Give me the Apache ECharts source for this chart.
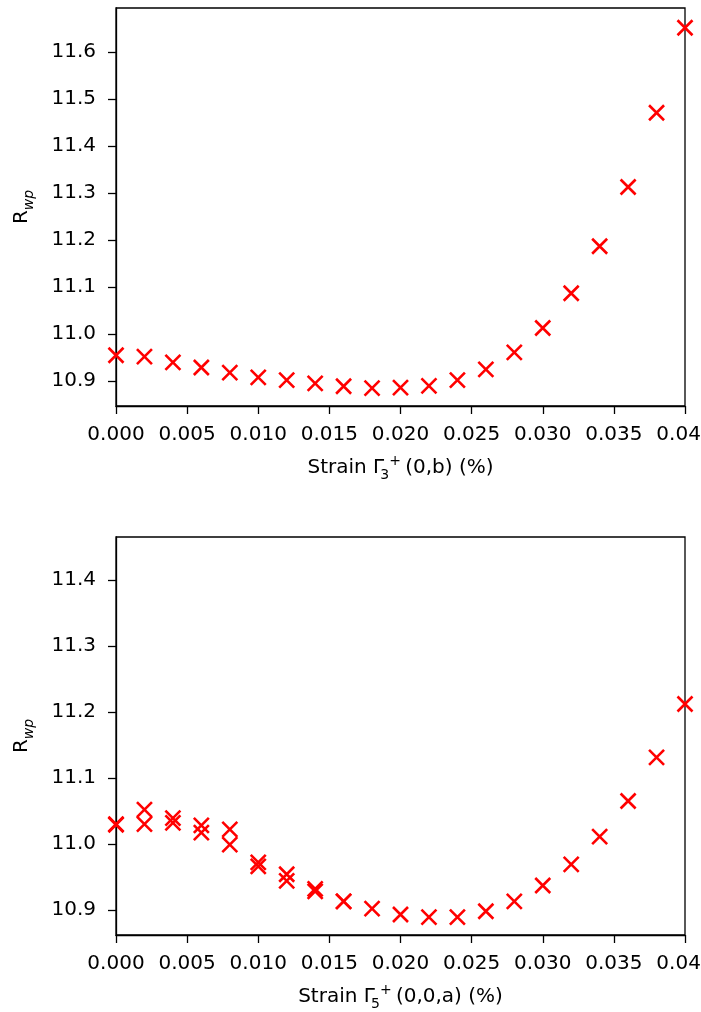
<!DOCTYPE html>
<html>
<head>
<meta charset="utf-8">
<script src="https://cdn.jsdelivr.net/npm/echarts@6/dist/echarts.min.js"></script>
<style>
html, body { margin: 0; padding: 0; background: #fff; }
#chart { width: 701px; height: 1012px; }
</style>
</head>
<body>
<div id="chart"></div>
<script>
// data
var strain = [0, 0.002, 0.004, 0.006, 0.008, 0.010, 0.012, 0.014, 0.016, 0.018, 0.020,
              0.022, 0.024, 0.026, 0.028, 0.030, 0.032, 0.034, 0.036, 0.038, 0.040];
var rwpTop = [10.955, 10.952, 10.940, 10.929, 10.918, 10.908, 10.902, 10.895, 10.889, 10.885, 10.886,
              10.890, 10.902, 10.925, 10.961, 11.013, 11.087, 11.187, 11.313, 11.471, 11.652];
var rwpBottom = [11.030, 11.052, 11.039, 11.028, 11.022, 10.972, 10.954, 10.932, 10.913, 10.902, 10.893,
                 10.889, 10.889, 10.898, 10.913, 10.937, 10.969, 11.011, 11.065, 11.131, 11.212];
// second run, only at low strain
var strainB = [0, 0.002, 0.004, 0.006, 0.008, 0.010, 0.012, 0.014, 0.016];
var rwpBottomB = [11.029, 11.030, 11.032, 11.017, 10.999, 10.966, 10.944, 10.928, 10.913];

var xTicks = [0, 0.005, 0.010, 0.015, 0.020, 0.025, 0.030, 0.035, 0.040];
var yTicksTop = [10.9, 11.0, 11.1, 11.2, 11.3, 11.4, 11.5, 11.6];
var yTicksBottom = [10.9, 11.0, 11.1, 11.2, 11.3, 11.4];

var chart = echarts.init(document.getElementById('chart'));
var font = 'DejaVu Sans';
var crossPath = 'path://M0,0L10,10M10,0L0,10';

function pairs(xs, ys) {
    return xs.map(function (x, i) { return [x, ys[i]]; });
}

function xAxisFor(idx, sub, rest) {
    return {
        type: 'value',
        gridIndex: idx,
        min: 0,
        max: 0.04,
        name: '{n|Strain Γ}{sub|' + sub + '}{sup|+}{n|(' + rest + ') (%)}',
        nameLocation: 'middle',
        nameGap: 48,
        nameTextStyle: {
            rich: {
                n: { fontSize: 20, fontFamily: font, color: '#000', lineHeight: 28 },
                sub: { fontSize: 14, fontFamily: font, color: '#000', verticalAlign: 'bottom', lineHeight: 10, width: 1 },
                sup: { fontSize: 14, fontFamily: font, color: '#000', verticalAlign: 'top', lineHeight: 19, width: 20 }
            }
        },
        axisLine: { show: true, onZero: false, lineStyle: { color: '#000', width: 1.3 } },
        axisTick: { show: true, length: 8, customValues: xTicks, lineStyle: { color: '#000', width: 1.3 } },
        axisLabel: {
            customValues: xTicks,
            margin: 19,
            fontSize: 20,
            fontFamily: font,
            color: '#000',
            formatter: function (v) { return v.toFixed(3); }
        },
        splitLine: { show: false }
    };
}

function yAxisFor(idx, ticks, min, max) {
    return {
        type: 'value',
        gridIndex: idx,
        min: min,
        max: max,
        name: '{n|R}{s|wp}',
        nameLocation: 'middle',
        nameGap: 80,
        nameRotate: 90,
        nameTextStyle: {
            rich: {
                n: { fontSize: 20, fontFamily: font, color: '#000', lineHeight: 28 },
                s: { fontSize: 14, fontFamily: font, fontStyle: 'italic', color: '#000', verticalAlign: 'bottom', lineHeight: 10 }
            }
        },
        axisLine: { show: true, onZero: false, lineStyle: { color: '#000', width: 1.3 } },
        axisTick: { show: true, length: 8, customValues: ticks, lineStyle: { color: '#000', width: 1.3 } },
        axisLabel: {
            customValues: ticks,
            margin: 20,
            fontSize: 20,
            fontFamily: font,
            color: '#000',
            formatter: function (v) { return v.toFixed(1); }
        },
        splitLine: { show: false }
    };
}

function scatter(idx, data) {
    return {
        type: 'scatter',
        xAxisIndex: idx,
        yAxisIndex: idx,
        symbol: crossPath,
        symbolSize: 15,
        itemStyle: { color: 'none', borderColor: '#ff0000', borderWidth: 2.6, opacity: 1 },
        emphasis: { disabled: true },
        data: data
    };
}

var option = {
    animation: false,
    backgroundColor: '#fff',
    grid: [
        { left: 116, top: 8, width: 569, height: 398, outerBoundsMode: 'none', containLabel: false,
          show: true, borderColor: '#000', borderWidth: 1.3 },
        { left: 116, top: 537, width: 569, height: 398, outerBoundsMode: 'none', containLabel: false,
          show: true, borderColor: '#000', borderWidth: 1.3 }
    ],
    xAxis: [
        xAxisFor(0, '3', '0,b'),
        xAxisFor(1, '5', '0,0,a')
    ],
    yAxis: [
        yAxisFor(0, yTicksTop, 10.847, 11.694),
        yAxisFor(1, yTicksBottom, 10.862, 11.465)
    ],
    series: [
        scatter(0, pairs(strain, rwpTop)),
        scatter(1, pairs(strain, rwpBottom)),
        scatter(1, pairs(strainB, rwpBottomB))
    ]
};

chart.setOption(option, true);
</script>
</body>
</html>
